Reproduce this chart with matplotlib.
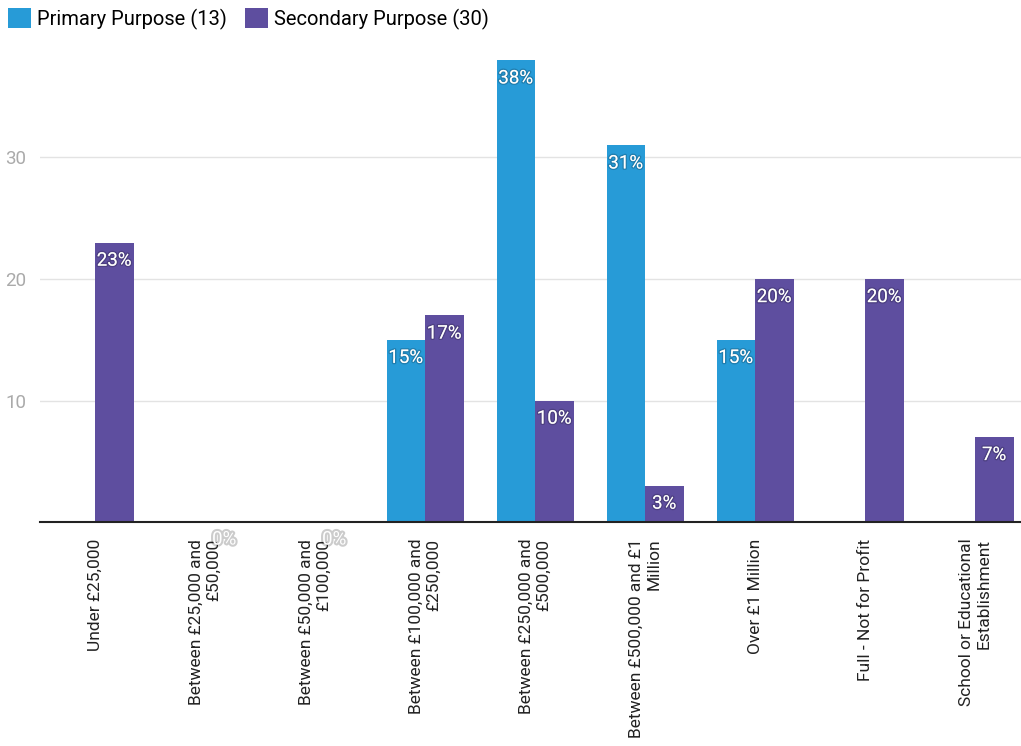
import matplotlib
from matplotlib import pyplot as plt
from matplotlib import patheffects as pe
import numpy as np

matplotlib.use('agg')

categories = [
    'Under £25,000',
    'Between £25,000 and\n£50,000',
    'Between £50,000 and\n£100,000',
    'Between £100,000 and\n£250,000',
    'Between £250,000 and\n£500,000',
    'Between £500,000 and £1\nMillion',
    'Over £1 Million',
    'Full - Not for Profit',
    'School or Educational\nEstablishment',
]
primary = [None, None, None, 15, 38, 31, 15, None, None]
secondary = [23, 0, 0, 17, 10, 3, 20, 20, 7]
series_names = ['Primary Purpose (13)', 'Secondary Purpose (30)']
yticks = [10, 20, 30]

plt.rcParams['font.family'] = ['Roboto', 'DejaVu Sans']

blue = '#279bd7'
purple = '#5e4e9f'

fig = plt.figure(figsize=(10.21, 7.46), dpi=100)
ax = fig.add_axes([40 / 1021, 1 - 522 / 746, 1 - 40 / 1021, 482 / 746])

x = np.arange(len(categories))
w = 0.35
label_fx = [pe.withStroke(linewidth=2, foreground=(0, 0, 0, 0.18))]

for vals, off, color, name in [(primary, -w / 2, blue, series_names[0]),
                               (secondary, w / 2, purple, series_names[1])]:
    xs = [xi + off for xi, v in zip(x, vals) if v is not None]
    hs = [v for v in vals if v is not None]
    ax.bar(xs, hs, width=w, color=color, label=name, zorder=3)
    for xi, h in zip(xs, hs):
        if h > 0:
            ax.text(xi, h - 0.75, f'{h}%', ha='center', va='top', color='white',
                    fontsize=13.5, path_effects=label_fx, zorder=4)
        else:
            ax.text(xi, -0.7, f'{h}%', ha='center', va='top', color='white',
                    fontsize=13.5, zorder=4,
                    path_effects=[pe.withStroke(linewidth=3, foreground=(0, 0, 0, 0.2))])

ax.set_xlim(-0.5, -0.5 + 981 / 110)
ax.set_ylim(0, 482 / 12.15)
ax.set_yticks(yticks)
ax.tick_params(axis='y', length=0, pad=10, labelsize=13.5, labelcolor='#aaaaaa')
ax.yaxis.grid(True, color='#e3e3e3', linewidth=1, zorder=0)
ax.set_xticks(x)
ax.set_xticklabels(categories, rotation=90, fontsize=12.5, color='#222222',
                   ha='center', va='top', multialignment='right')
ax.tick_params(axis='x', length=0, pad=12)

for s in ['top', 'right', 'left']:
    ax.spines[s].set_visible(False)
ax.spines['bottom'].set_color('#222222')
ax.spines['bottom'].set_linewidth(1.5)
ax.spines['bottom'].set_zorder(5)

fig.legend(loc='upper left', bbox_to_anchor=(0.0, 1.0), ncol=2, frameon=False,
           fontsize=14.5, handlelength=1.15, handleheight=1.15, handletextpad=0.3,
           columnspacing=0.9, borderaxespad=0.2, borderpad=0.2)

plt.savefig('out.png', dpi=100)
plt.close()
